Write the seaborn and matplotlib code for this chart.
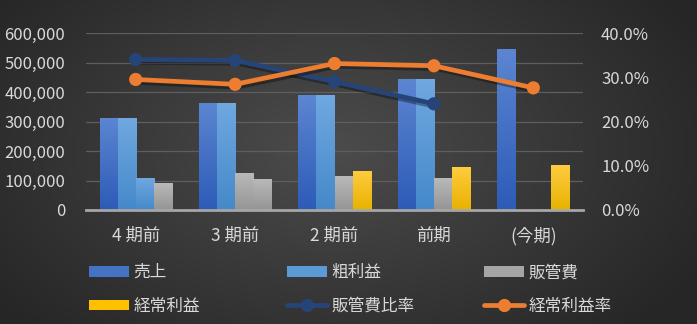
import numpy as np
import pandas as pd
import matplotlib
matplotlib.use("Agg")
import matplotlib.pyplot as plt
import matplotlib.patheffects as pe
from matplotlib.patches import Patch
from matplotlib.lines import Line2D
from matplotlib.ticker import FuncFormatter, MultipleLocator
import seaborn as sns

# ---------------- data ----------------
categories = ["4 期前", "3 期前", "2 期前", "前期", "(今期)"]
sales = [313000, 364000, 390000, 444000, 546000]          # 売上
gross_profit = [313000, 364000, 390000, 444000, np.nan]   # 粗利益
sga = [109000, 126000, 116000, 109000, np.nan]            # 販管費
ordinary_profit = [92000, 106000, 133000, 147000, 152000] # 経常利益
sga_ratio = [0.340, 0.338, 0.290, 0.240, np.nan]          # 販管費比率
op_ratio = [0.295, 0.284, 0.331, 0.326, 0.276]            # 経常利益率

bar_series = ["売上", "粗利益", "販管費", "経常利益"]
line_series = ["販管費比率", "経常利益率"]

# ---------------- style ----------------
sns.set_theme(style="dark")
plt.rcParams["font.family"] = ["Noto Sans CJK JP", "DejaVu Sans"]
TXT = "#d9d9d9"
bar_colors = {"売上": "#4472c4", "粗利益": "#5b9bd5", "販管費": "#a5a5a5", "経常利益": "#ffc000"}
grad = {
    "売上": ("#5c86d2", "#2d5bb7"),
    "粗利益": ("#70a8e0", "#4589ca"),
    "販管費": ("#bababa", "#959595"),
    "経常利益": ("#ffcc40", "#e8b200"),
}
line_colors = {"販管費比率": "#264478", "経常利益率": "#ed7d31"}

W, H = 697, 324
fig = plt.figure(figsize=(W / 100, H / 100), dpi=100)
fig.patch.set_facecolor("#333333")

# background radial gradient
bg = fig.add_axes([0, 0, 1, 1], zorder=-10)
yy, xx = np.mgrid[0:H, 0:W]
r = np.sqrt(((xx - 330) / 420.0) ** 2 + ((yy - 150) / 260.0) ** 2)
r = np.clip(r, 0, 1)
c0 = np.array([0x4c, 0x4c, 0x4c]) / 255.0
c1 = np.array([0x26, 0x26, 0x26]) / 255.0
img = c0[None, None, :] * (1 - r[..., None]) + c1[None, None, :] * r[..., None]
bg.imshow(img, aspect="auto", extent=[0, 1, 0, 1], origin="upper")
bg.axis("off")

left, right = 86 / W, 583 / W
bottom, top = 1 - 210 / H, 1 - 33 / H
ax = fig.add_axes([left, bottom, right - left, top - bottom])
ax.patch.set_alpha(0)

df = pd.DataFrame({
    "区分": categories * 4,
    "系列": sum([[s] * len(categories) for s in bar_series], []),
    "値": list(sales) + list(gross_profit) + list(sga) + list(ordinary_profit),
})
sns.barplot(data=df, x="区分", y="値", hue="系列", hue_order=bar_series,
            palette=bar_colors, order=categories, width=0.725, gap=0,
            ax=ax, legend=False, saturation=1, linewidth=0, errorbar=None)

# gradient fill on bars
n = len(categories)
for i, p in enumerate(ax.patches):
    h = p.get_height()
    if not np.isfinite(h) or h <= 0:
        continue
    s = bar_series[i // n]
    ctop = np.array(matplotlib.colors.to_rgb(grad[s][0]))
    cbot = np.array(matplotlib.colors.to_rgb(grad[s][1]))
    t = np.linspace(0, 1, 64)[:, None]
    g = (ctop * (1 - t) + cbot * t)[:, None, :]
    x0 = p.get_x()
    im = ax.imshow(g, extent=[x0, x0 + p.get_width(), 0, h], aspect="auto",
                   origin="upper", zorder=p.get_zorder() + 0.1, interpolation="bilinear")
    im.set_clip_path(p)

ax.set_xlim(-0.5, n - 0.5)
ax.set_ylim(0, 600000)
ax.yaxis.set_major_locator(MultipleLocator(100000))
ax.yaxis.set_major_formatter(FuncFormatter(lambda v, _: f"{int(v):,}"))
ax.grid(axis="y", color="#5e5e5e", linewidth=0.9)
ax.grid(axis="x", visible=False)
ax.set_axisbelow(True)
for sp in ["left", "right", "top"]:
    ax.spines[sp].set_visible(False)
ax.spines["bottom"].set_color("#a6a6a6")
ax.spines["bottom"].set_linewidth(2)
ax.tick_params(axis="y", length=0, pad=15, labelsize=12, labelcolor=TXT)
ax.tick_params(axis="x", length=0, pad=12, labelsize=12.5, labelcolor=TXT)
ax.set_xlabel("")
ax.set_ylabel("")

# lines on secondary axis
ax2 = ax.twinx()
ax2.patch.set_alpha(0)
xpos = np.arange(n)
shadow = [pe.SimpleLineShadow(offset=(1.5, -2), alpha=0.35, shadow_color="black"), pe.Normal()]
for name, vals in zip(line_series, [sga_ratio, op_ratio]):
    sns.lineplot(x=xpos, y=vals, ax=ax2, color=line_colors[name], linewidth=3.4,
                 marker="o", markersize=9.5, markeredgewidth=0, legend=False)
for ln in ax2.get_lines():
    ln.set_path_effects(shadow)
ax2.set_ylim(0, 0.4)
ax2.yaxis.set_major_locator(MultipleLocator(0.1))
ax2.yaxis.set_major_formatter(FuncFormatter(lambda v, _: f"{v * 100:.1f}%"))
ax2.grid(False)
for sp in ax2.spines.values():
    sp.set_visible(False)
ax2.tick_params(axis="y", length=0, pad=13, labelsize=12, labelcolor=TXT)
ax2.set_ylabel("")
ax.set_xlim(-0.5, n - 0.5)

# legend (three columns placed like the reference)
def bar_handle(s):
    return Patch(facecolor=bar_colors[s], edgecolor="none")

def line_handle(s):
    return Line2D([0], [0], color=line_colors[s], linewidth=3.4, marker="o", markersize=9.5,
                  markeredgewidth=0)

cols = [
    ([bar_handle("売上"), bar_handle("経常利益")], ["売上", "経常利益"], 89),
    ([bar_handle("粗利益"), line_handle("販管費比率")], ["粗利益", "販管費比率"], 287),
    ([bar_handle("販管費"), line_handle("経常利益率")], ["販管費", "経常利益率"], 484),
]
for hs, ls, xpx in cols:
    leg = fig.legend(hs, ls, loc="center left", bbox_to_anchor=(xpx / W, 1 - 289.5 / H),
                     frameon=False, fontsize=12, labelcolor=TXT, handlelength=2.4,
                     handleheight=0.62, handletextpad=0.25, labelspacing=1.0,
                     borderpad=0, borderaxespad=0, numpoints=1)

fig.savefig("out.png", dpi=100, facecolor=fig.get_facecolor())
